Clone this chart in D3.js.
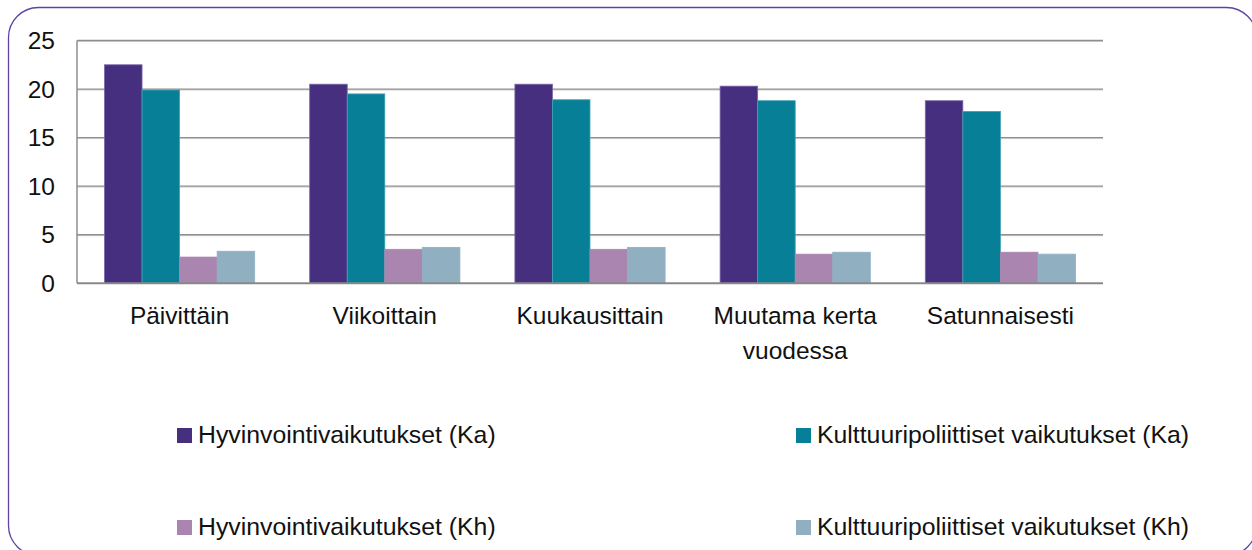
<!DOCTYPE html>
<html>
<head>
<meta charset="utf-8">
<script src="https://cdn.jsdelivr.net/npm/d3@7"></script>
<style>
  body { margin: 0; background: #fff; }
  svg text { font-family: "Liberation Sans", Arial, sans-serif; fill: #111; }
</style>
</head>
<body>
<div id="chart"></div>
<script>
// data
var categories = ["Päivittäin", "Viikoittain", "Kuukausittain", "Muutama kerta vuodessa", "Satunnaisesti"];
var categoryLines = [["Päivittäin"], ["Viikoittain"], ["Kuukausittain"], ["Muutama kerta", "vuodessa"], ["Satunnaisesti"]];
var seriesNames = ["Hyvinvointivaikutukset (Ka)", "Kulttuuripoliittiset vaikutukset (Ka)",
                   "Hyvinvointivaikutukset (Kh)", "Kulttuuripoliittiset vaikutukset (Kh)"];
var hyvKa = [22.5, 20.5, 20.5, 20.3, 18.8];
var kultKa = [19.9, 19.5, 18.9, 18.8, 17.7];
var hyvKh = [2.7, 3.5, 3.5, 3.0, 3.2];
var kultKh = [3.3, 3.7, 3.7, 3.2, 3.0];
var yTicks = [0, 5, 10, 15, 20, 25];

var colors = ["#472f80", "#077f96", "#a985b0", "#90b0c2"];
var strokes = ["#7a67a8", "#3fa3b6", "#a985b0", "#90b0c2"];

var width = 1252, height = 550;
var plotLeft = 77, plotRight = 1103, plotTop = 40.5, plotBottom = 283.3;

var svg = d3.select("#chart").append("svg")
  .attr("width", width).attr("height", height);

// rounded frame
svg.append("rect")
  .attr("x", 8.5).attr("y", 7.5)
  .attr("width", 1248).attr("height", 548)
  .attr("rx", 30).attr("ry", 30)
  .attr("fill", "none")
  .attr("stroke", "#5d43a3")
  .attr("stroke-width", 1.3);

var x0 = d3.scaleBand().domain(categories).range([plotLeft, plotRight]).paddingInner(0.268).paddingOuter(0.134);
var x1 = d3.scaleBand().domain(d3.range(4)).range([0, x0.bandwidth()]);
var y = d3.scaleLinear().domain([0, 25]).range([plotBottom, plotTop]);

// gridlines
var gridVals = yTicks.filter(function (d) { return d > 0; });
svg.selectAll("line.gridShadow")
  .data(gridVals)
  .enter().append("line")
  .attr("class", "gridShadow")
  .attr("x1", plotLeft).attr("x2", plotRight)
  .attr("y1", function (d) { return y(d) + 1; })
  .attr("y2", function (d) { return y(d) + 1; })
  .attr("stroke", "#d4d4d4").attr("stroke-width", 1);
svg.selectAll("line.grid")
  .data(gridVals)
  .enter().append("line")
  .attr("class", "grid")
  .attr("x1", plotLeft).attr("x2", plotRight)
  .attr("y1", function (d) { return y(d); })
  .attr("y2", function (d) { return y(d); })
  .attr("stroke", "#8e8e8e").attr("stroke-width", 1.3);

// bars
var allSeries = [hyvKa, kultKa, hyvKh, kultKh];
var groups = svg.selectAll("g.cat")
  .data(categories)
  .enter().append("g")
  .attr("class", "cat")
  .attr("transform", function (d) { return "translate(" + x0(d) + ",0)"; });

groups.selectAll("rect")
  .data(function (d, i) {
    return allSeries.map(function (s, k) { return { k: k, v: s[i] }; });
  })
  .enter().append("rect")
  .attr("x", function (d) { return x1(d.k); })
  .attr("y", function (d) { return y(d.v); })
  .attr("width", x1.bandwidth())
  .attr("height", function (d) { return y(0) - y(d.v); })
  .attr("fill", function (d) { return colors[d.k]; })
  .attr("stroke", function (d) { return strokes[d.k]; })
  .attr("stroke-width", 0.8);

// axis lines
svg.append("line")
  .attr("x1", plotLeft).attr("x2", plotLeft)
  .attr("y1", plotTop).attr("y2", plotBottom)
  .attr("stroke", "#8e8e8e").attr("stroke-width", 1.5);
svg.append("line")
  .attr("x1", plotLeft).attr("x2", plotRight)
  .attr("y1", plotBottom).attr("y2", plotBottom)
  .attr("stroke", "#888").attr("stroke-width", 2);

// y tick labels
svg.selectAll("text.ytick")
  .data(yTicks)
  .enter().append("text")
  .attr("class", "ytick")
  .attr("x", 55)
  .attr("y", function (d) { return y(d) + 8.5; })
  .attr("text-anchor", "end")
  .style("font-size", "24.5px")
  .text(function (d) { return d; });

// category labels
categoryLines.forEach(function (lines, i) {
  var cx = x0(categories[i]) + x0.bandwidth() / 2;
  var t = svg.append("text")
    .attr("x", cx)
    .attr("y", 324)
    .attr("text-anchor", "middle")
    .style("font-size", "24.5px");
  lines.forEach(function (ln, j) {
    t.append("tspan")
      .attr("x", cx)
      .attr("dy", j === 0 ? 0 : 35)
      .text(ln);
  });
});

// legend
var legendPos = [[177, 428], [796, 428], [177, 520], [796, 520]];
seriesNames.forEach(function (name, k) {
  svg.append("rect")
    .attr("x", legendPos[k][0]).attr("y", legendPos[k][1])
    .attr("width", 15).attr("height", 15)
    .attr("fill", colors[k]);
  svg.append("text")
    .attr("x", legendPos[k][0] + 21)
    .attr("y", legendPos[k][1] + 14.5)
    .style("font-size", "24.8px")
    .text(name);
});
</script>
</body>
</html>
